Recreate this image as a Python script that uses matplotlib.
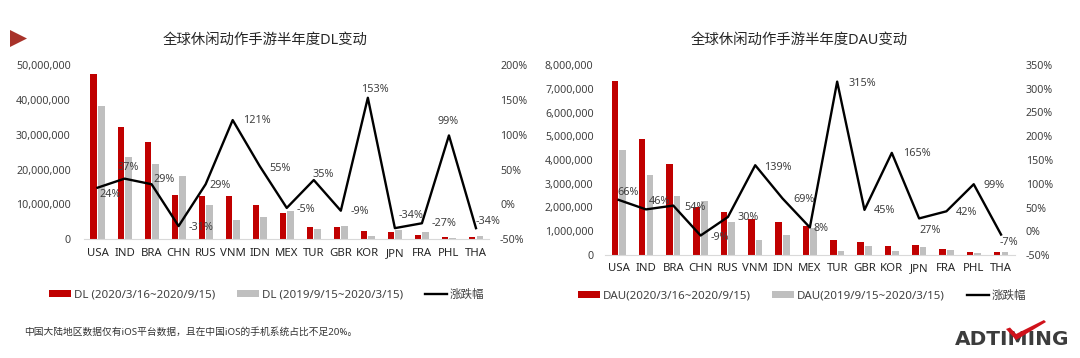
import matplotlib
matplotlib.use("Agg")
import matplotlib.pyplot as plt
import matplotlib.transforms as mtransforms
from matplotlib.lines import Line2D
from matplotlib.patches import Patch, Polygon
from matplotlib.ticker import FuncFormatter, MultipleLocator

plt.rcParams["font.family"] = ["Noto Sans", "Noto Sans CJK SC", "DejaVu Sans"]

countries = ["USA", "IND", "BRA", "CHN", "RUS", "VNM", "IDN", "MEX",
             "TUR", "GBR", "KOR", "JPN", "FRA", "PHL", "THA"]

# downloads, millions
dl_now = [47.4, 32.3, 27.8, 12.6, 12.5, 12.4, 9.8, 7.6, 3.6, 3.5, 2.4, 2.2, 1.3, 0.8, 0.6]
dl_prev = [38.3, 23.5, 21.6, 18.3, 9.8, 5.6, 6.4, 8.1, 2.9, 3.9, 1.0, 2.8, 2.0, 0.4, 1.0]
dl_change = [24, 37, 29, -31, 29, 121, 55, -5, 35, -9, 153, -34, -27, 99, -34]

# daily active users, millions
dau_now = [7.32, 4.89, 3.82, 2.04, 1.79, 1.51, 1.39, 1.21, 0.63, 0.56, 0.36, 0.42, 0.26, 0.12, 0.11]
dau_prev = [4.44, 3.36, 2.49, 2.28, 1.39, 0.65, 0.83, 1.15, 0.17, 0.40, 0.15, 0.33, 0.21, 0.08, 0.14]
dau_change = [66, 46, 54, -9, 30, 139, 69, 8, 315, 45, 165, 27, 42, 99, -7]

# label offsets in pixels (left edge dx, centre dy, y downwards)
dl_label_offsets = [(2, 7), (-7, -11), (2, -5), (10, 1.5), (4, 1.5), (10, 0), (10, 2), (10, 2),
                    (-1, -6), (10, 1), (-7, -8), (4, -13), (10, 0.5), (-11, -14), (0, -7)]
dau_label_offsets = [(-1, -7), (3, -8), (11, 1.5), (10, 1.5), (10, 1), (9, 2), (11, 1.5), (4, 1),
                     (11, 2), (9.5, 1), (11, 1), (0, 12), (9.5, 1.5), (9.5, 1), (-1, 8)]

RED = "#C00000"
GRAY = "#BFBFBF"
TXT = "#404040"
W, H = 1080, 358

fig = plt.figure(figsize=(W / 100, H / 100), dpi=100)


def px_axes(l, t, r, b):
    return fig.add_axes([l / W, 1 - b / H, (r - l) / W, (b - t) / H])


def draw_panel(ax, now, prev, change, offsets, ymax, ystep, pmin, pmax, lpad, rpad):
    x = list(range(len(countries)))
    ax.bar([i - 0.14 for i in x], [v * 1e6 for v in now], width=0.24, color=RED, zorder=2)
    ax.bar([i + 0.14 for i in x], [v * 1e6 for v in prev], width=0.24, color=GRAY, zorder=2)
    ax.set_xlim(-0.5, len(countries) - 0.5)
    ax.set_ylim(0, ymax)
    ax.yaxis.set_major_locator(MultipleLocator(ystep))
    ax.yaxis.set_major_formatter(FuncFormatter(lambda v, p: f"{v:,.0f}"))
    ax.set_xticks(x)
    ax.set_xticklabels(countries, fontsize=8.2, color="#262626")
    ax.tick_params(axis="x", length=0, pad=6)
    ax.tick_params(axis="y", length=0, pad=lpad, labelsize=7.7, labelcolor=TXT)
    for s in ["top", "left", "right"]:
        ax.spines[s].set_visible(False)
    ax.spines["bottom"].set_color("#D9D9D9")
    ax.spines["bottom"].set_linewidth(0.8)
    ax.set_facecolor("none")

    ax2 = ax.twinx()
    ax2.plot(x, change, color="black", lw=1.7, zorder=3)
    ax2.set_ylim(pmin, pmax)
    ax2.yaxis.set_major_locator(MultipleLocator(50))
    ax2.yaxis.set_major_formatter(FuncFormatter(lambda v, p: f"{v:.0f}%"))
    ax2.tick_params(axis="y", length=0, pad=rpad, labelsize=7.7, labelcolor=TXT)
    for s in ["top", "left", "right", "bottom"]:
        ax2.spines[s].set_visible(False)
    for i, (v, (dx, dy)) in enumerate(zip(change, offsets)):
        ax2.annotate(f"{v}%", (i, v), xytext=(dx, -dy), textcoords="offset pixels",
                     ha="left", va="center", fontsize=7.8, color=TXT)
    return ax2


ax_l = px_axes(84, 65, 489.5, 239.3)
draw_panel(ax_l, dl_now, dl_prev, dl_change, dl_label_offsets,
           50e6, 10e6, -50, 200, 9.5, 7.6)

ax_r = px_axes(605, 65, 1014.7, 255)
draw_panel(ax_r, dau_now, dau_prev, dau_change, dau_label_offsets,
           8e6, 1e6, -50, 350, 8.2, 7.9)

# titles
fig.text(264.7 / W, 1 - 40 / H, "全球休闲动作手游半年度DL变动", ha="center", va="center",
         fontsize=10.4, color="#262626")
fig.text(799.6 / W, 1 - 40 / H, "全球休闲动作手游半年度DAU变动", ha="center", va="center",
         fontsize=10.4, color="#262626")


def legend(labels, cx, cy):
    handles = [Patch(facecolor=RED), Patch(facecolor=GRAY), Line2D([], [], color="black", lw=1.7)]
    fig.legend(handles, labels, loc="center", bbox_to_anchor=(cx / W, 1 - cy / H), ncol=3,
               frameon=False, fontsize=8.3, handlelength=1.9, handleheight=0.55,
               handletextpad=0.25, columnspacing=1.9, labelcolor=TXT)


legend(["DL (2020/3/16~2020/9/15)", "DL (2019/9/15~2020/3/15)", "涨跌幅"], 266.5, 295)
legend(["DAU(2020/3/16~2020/9/15)", "DAU(2019/9/15~2020/3/15)", "涨跌幅"], 802, 296)

fig.text(24 / W, 1 - 332 / H, "中国大陆地区数据仅有iOS平台数据，且在中国iOS的手机系统占比不足20%。",
         ha="left", va="center", fontsize=7, color="#333333")

# corner marker and logo
ident = mtransforms.IdentityTransform()
fig.add_artist(Polygon([(10, H - 30), (10, H - 47), (27, H - 38.5)], closed=True,
                       facecolor="#A8322A", edgecolor="none", transform=ident))
fig.text(955 / W, 1 - 339.5 / H, "ADTIMING", ha="left", va="center", fontsize=14.5,
         family="DejaVu Sans", weight="bold", color="#3C3C3C")
fig.add_artist(Polygon([(1006, H - 329), (1010, H - 327.5), (1016, H - 334), (1044, H - 320),
                        (1046, H - 322), (1016, H - 340)], closed=True,
                       facecolor="#D0121B", edgecolor="none", transform=ident, zorder=5))

fig.savefig("out.png", dpi=100)
